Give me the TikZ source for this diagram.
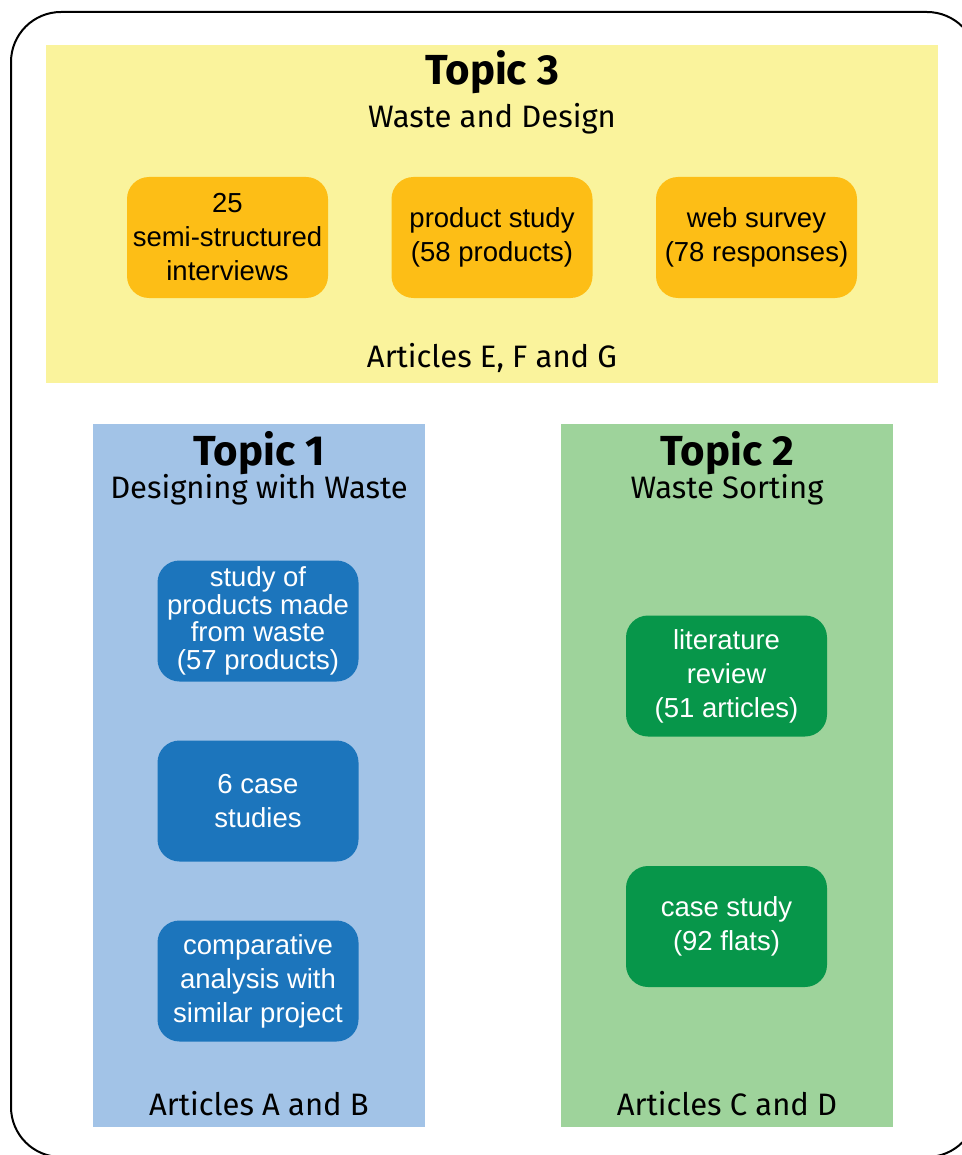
\documentclass[tikz,border=0pt]{standalone}
\usepackage{fontspec}
\setmainfont{Fira Sans}
\newfontfamily\boxfont{Liberation Sans}
\definecolor{yellowpanel}{HTML}{FAF39C}
\definecolor{orangebox}{HTML}{FDBE16}
\definecolor{bluepanel}{HTML}{A2C3E7}
\definecolor{bluebox}{HTML}{1C75BC}
\definecolor{greenpanel}{HTML}{9ED39B}
\definecolor{greenbox}{HTML}{07964A}
\tikzset{
  heading/.style={anchor=base, inner sep=0pt, font=\fontsize{42}{48}\selectfont\bfseries},
  subheading/.style={anchor=base, inner sep=0pt, font=\fontsize{31}{36}\selectfont},
  method/.style={rounded corners=22pt, minimum width=201pt, minimum height=121pt,
    inner sep=0pt, align=center, font=\boxfont\fontsize{27.5}{34}\selectfont},
  tight/.style={font=\boxfont\fontsize{27.5}{27.5}\selectfont},
  ymethod/.style={method, fill=orangebox, text=black},
  bmethod/.style={method, fill=bluebox, text=white},
  gmethod/.style={method, fill=greenbox, text=white},
}
\begin{document}
\begin{tikzpicture}[x=1pt,y=-1pt]
\useasboundingbox (0,0) rectangle (961,1155);
% outer frame
\draw[line width=2pt, rounded corners=50pt] (11,12) rectangle (977,1157);
% topic panels
\fill[yellowpanel] (46,45) rectangle (938,383);
\fill[bluepanel] (93,424) rectangle (425,1127);
\fill[greenpanel] (561,424) rectangle (893,1127);

% Topic 3
\node[heading] (t3) at (492,85) {Topic 3};
\node[subheading] (t3s) at (492,128) {Waste and Design};
\node[ymethod] (m31) at (227.5,237.5) {25\\semi-structured\\interviews};
\node[ymethod] (m32) at (492,237.5) {product study\\(58 products)};
\node[ymethod] (m33) at (756.5,237.5) {web survey\\(78 responses)};
\node[subheading] (a3) at (492,367) {Articles E, F and G};

% Topic 1
\node[heading] (t1) at (259,465) {Topic 1};
\node[subheading] (t1s) at (259,498) {Designing with Waste};
\node[bmethod, tight] (m11) at (258,621) {study of\\products made\\from waste\\(57 products)};
\node[bmethod] (m12) at (258,801) {6 case\\studies};
\node[bmethod] (m13) at (258,981) {comparative\\analysis with\\similar project};
\node[subheading] (a1) at (259,1115) {Articles A and B};

% Topic 2
\node[heading] (t2) at (727,465) {Topic 2};
\node[subheading] (t2s) at (727,498) {Waste Sorting};
\node[gmethod] (m21) at (726.5,676) {literature\\review\\(51 articles)};
\node[gmethod] (m22) at (726.5,926.5) {case study\\(92 flats)};
\node[subheading] (a2) at (727,1115) {Articles C and D};
\end{tikzpicture}
\end{document}
